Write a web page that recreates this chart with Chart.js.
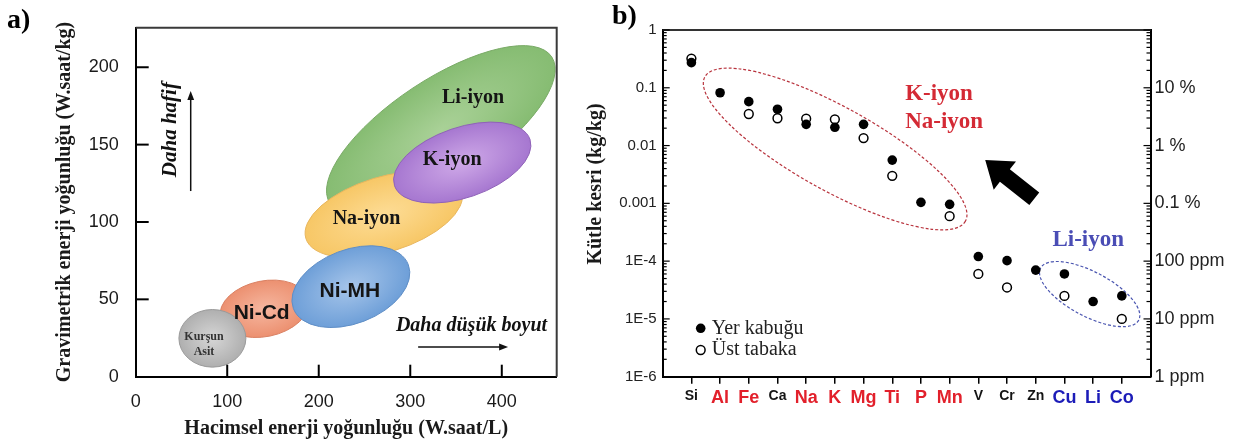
<!DOCTYPE html>
<html>
<head>
<meta charset="utf-8">
<script src="https://cdn.jsdelivr.net/npm/chart.js@4.4.0/dist/chart.umd.min.js"></script>
<style>
  html, body { margin: 0; padding: 0; background: #fff; }
  #wrap { position: relative; width: 1241px; height: 443px; background: #fff; }
  #boxA { position: absolute; left: 0; top: 0; width: 580px; height: 443px; }
  #boxB { position: absolute; left: 580px; top: 0; width: 661px; height: 443px; }
</style>
</head>
<body>
<div id="wrap">
  <div id="boxA"><canvas id="chartA"></canvas></div>
  <div id="boxB"><canvas id="chartB"></canvas></div>
</div>
<script>
// ---- panel a : battery chemistries (drawn back to front) ----
const cellNames  = ['Li-iyon', 'Na-iyon', 'K-iyon', 'Ni-Cd', 'Kurşun\nAsit', 'Ni-MH'];
const centerVol  = [333.4, 271.1, 356.8, 140.6, 83.8, 235.1];   // W.saat/L
const centerGrav = [159.4, 104.8, 138.4, 43.9, 24.8, 58.2];     // W.saat/kg
const tipVol     = [454.6, 356.3, 430.8, 188.7, 120.4, 297.9];  // end of long axis
const tipGrav    = [206.7, 120.2, 153.4, 49.7, 24.8, 72.4];
const widthRatio = [0.38, 0.46, 0.49, 0.62, 0.86, 0.6];
const labelVol   = [368.6, 252.2, 345.7, 137.6, 74.6, 234.0];
const labelGrav  = [180.5, 102.2, 140.4, 41.1, 20.7, 55.4];
const xTicksA = [0, 100, 200, 300, 400];
const yTicksA = [0, 50, 100, 150, 200];

// ---- panel b : element abundance ----
const elements = ['Si', 'Al', 'Fe', 'Ca', 'Na', 'K', 'Mg', 'Ti', 'P', 'Mn', 'V', 'Cr', 'Zn', 'Cu', 'Li', 'Co'];
const crust = [0.272, 0.082, 0.0575, 0.0425, 0.0233, 0.0207, 0.0233, 0.0056, 0.00104, 0.00096,
               1.2e-4, 1.02e-4, 7.0e-5, 6.0e-5, 2.0e-5, 2.5e-5];
const upper = [0.32, null, 0.0352, 0.0297, 0.0292, 0.0285, 0.0135, 0.0030, null, 0.0006,
               6.0e-5, 3.5e-5, null, 2.5e-5, null, 1.0e-5];
const elementGroup = ['', 'na', 'na', '', 'na', 'na', 'na', 'na', 'na', 'na', '', '', '', 'li', 'li', 'li'];
const yTicksB  = [1e-6, 1e-5, 1e-4, 1e-3, 1e-2, 1e-1, 1];
const yLabelsB = ['1E-6', '1E-5', '1E-4', '0.001', '0.01', '0.1', '1'];
const y2Labels = ['1 ppm', '10 ppm', '100 ppm', '0.1 %', '1 %', '10 %', ''];

const serif = '"Liberation Serif", "Times New Roman", serif';
const sans = '"Liberation Sans", Arial, sans-serif';

const cellLight = ['#a9d197', '#fddc95', '#cfa9e8', '#f6b7a0', '#d6d6d6', '#a6c5ea'];
const cellDark  = ['#86bc72', '#f7c766', '#a677d0', '#ec9070', '#afafaf', '#6e9fd8'];
const cellEdge  = ['#79aa66', '#e8b65e', '#8f62b8', '#d98062', '#9a9a9a', '#5f8ec6'];
const cellFont  = [serif, serif, serif, sans, serif, sans];
const cellSize  = [20, 20, 20, 21, 12, 21];

function arrowLine(ctx, x1, y1, x2, y2, head) {
  const a = Math.atan2(y2 - y1, x2 - x1);
  ctx.beginPath();
  ctx.moveTo(x1, y1);
  ctx.lineTo(x2 - Math.cos(a) * head * 0.8, y2 - Math.sin(a) * head * 0.8);
  ctx.stroke();
  ctx.beginPath();
  ctx.moveTo(x2, y2);
  ctx.lineTo(x2 - Math.cos(a) * head + Math.sin(a) * head * 0.38, y2 - Math.sin(a) * head - Math.cos(a) * head * 0.38);
  ctx.lineTo(x2 - Math.cos(a) * head - Math.sin(a) * head * 0.38, y2 - Math.sin(a) * head + Math.cos(a) * head * 0.38);
  ctx.closePath();
  ctx.fill();
}

const panelA = {
  id: 'panelA',
  beforeDatasetsDraw(chart) {
    const {ctx, scales: {x, y}} = chart;
    const pts = chart.getDatasetMeta(0).data;
    cellNames.forEach((n, i) => {
      const cx = pts[i].x, cy = pts[i].y;
      const tx = x.getPixelForValue(tipVol[i]), ty = y.getPixelForValue(tipGrav[i]);
      const rx = Math.hypot(tx - cx, ty - cy), ry = rx * widthRatio[i];
      const ang = Math.atan2(ty - cy, tx - cx);
      ctx.save();
      ctx.translate(cx, cy);
      ctx.rotate(ang);
      ctx.scale(1, ry / rx);
      const g = ctx.createRadialGradient(0, 0, 0, 0, 0, rx);
      g.addColorStop(0, cellLight[i]);
      g.addColorStop(1, cellDark[i]);
      ctx.beginPath();
      ctx.arc(0, 0, rx, 0, Math.PI * 2);
      ctx.fillStyle = g;
      ctx.fill();
      ctx.restore();
      ctx.save();
      ctx.beginPath();
      ctx.ellipse(cx, cy, rx, ry, ang, 0, Math.PI * 2);
      ctx.strokeStyle = cellEdge[i];
      ctx.lineWidth = 1;
      ctx.stroke();
      ctx.restore();
    });
  },
  afterDatasetsDraw(chart) {
    const {ctx, scales: {x, y}} = chart;
    ctx.save();
    ctx.textAlign = 'center';
    ctx.textBaseline = 'middle';
    cellNames.forEach((n, i) => {
      ctx.font = 'bold ' + cellSize[i] + 'px ' + cellFont[i];
      ctx.fillStyle = i === 4 ? '#333' : '#151515';
      const lines = n.split('\n');
      lines.forEach((t, k) => {
        ctx.fillText(t, x.getPixelForValue(labelVol[i]), y.getPixelForValue(labelGrav[i]) - (lines.length - 1 - k) * 15 + (lines.length - 1) * 7.5);
      });
    });
    ctx.restore();
  },
  afterDraw(chart) {
    const {ctx, chartArea: a, scales: {x, y}} = chart;
    ctx.save();
    // frame: top and right
    ctx.strokeStyle = '#3a3a3a';
    ctx.lineWidth = 2;
    ctx.beginPath();
    ctx.moveTo(a.left, a.top);
    ctx.lineTo(a.right, a.top);
    ctx.lineTo(a.right, a.bottom);
    ctx.stroke();
    // inward ticks
    ctx.strokeStyle = '#000';
    ctx.lineWidth = 2;
    yTicksA.slice(1).forEach(v => {
      const p = y.getPixelForValue(v);
      ctx.beginPath(); ctx.moveTo(a.left, p); ctx.lineTo(a.left + 13, p); ctx.stroke();
    });
    xTicksA.slice(1).forEach(v => {
      const p = x.getPixelForValue(v);
      ctx.beginPath(); ctx.moveTo(p, a.bottom); ctx.lineTo(p, a.bottom - 12); ctx.stroke();
    });
    // direction hints
    ctx.fillStyle = '#111';
    ctx.strokeStyle = '#111';
    ctx.lineWidth = 1.5;
    arrowLine(ctx, x.getPixelForValue(60.1), y.getPixelForValue(120), x.getPixelForValue(60.1), y.getPixelForValue(184.7), 9);
    arrowLine(ctx, x.getPixelForValue(308.6), y.getPixelForValue(19.2), x.getPixelForValue(406.9), y.getPixelForValue(19.2), 9);
    ctx.font = 'italic bold 20px ' + serif;
    ctx.textAlign = 'center';
    ctx.textBaseline = 'middle';
    ctx.fillText('Daha düşük boyut', x.getPixelForValue(366.9), y.getPixelForValue(33));
    ctx.save();
    ctx.translate(x.getPixelForValue(37.6), y.getPixelForValue(159.7));
    ctx.rotate(-Math.PI / 2);
    ctx.font = 'italic bold 21px ' + serif;
    ctx.fillText('Daha hafif', 0, 0);
    ctx.restore();
    // y title
    ctx.save();
    ctx.font = 'bold 20px ' + serif;
    ctx.fillStyle = '#1a1a1a';
    ctx.translate(65, 202);
    ctx.rotate(-Math.PI / 2);
    ctx.fillText('Gravimetrik enerji yoğunluğu (W.saat/kg)', 0, 0);
    ctx.restore();
    // panel tag
    ctx.font = 'bold 28px ' + serif;
    ctx.fillStyle = '#000';
    ctx.textAlign = 'left';
    ctx.fillText('a)', 7, 21);
    ctx.restore();
  }
};

new Chart(document.getElementById('chartA'), {
  type: 'scatter',
  data: {
    datasets: [{
      data: cellNames.map((n, i) => ({x: centerVol[i], y: centerGrav[i]})),
      pointRadius: 0
    }]
  },
  options: {
    responsive: true,
    maintainAspectRatio: false,
    animation: false,
    events: [],
    layout: {padding: {top: 7.3, right: 23.3, left: 0, bottom: 0}},
    plugins: {legend: {display: false}, tooltip: {enabled: false}},
    scales: {
      x: {
        type: 'linear', min: 0, max: 460,
        afterBuildTicks: s => { s.ticks = xTicksA.map(v => ({value: v})); },
        afterFit: s => { s.height = 66.3; },
        grid: {display: false, drawTicks: false},
        border: {display: true, color: '#000', width: 2},
        ticks: {padding: 15, color: '#1a1a1a', font: {size: 18, family: sans}},
        title: {
          display: true, text: 'Hacimsel enerji yoğunluğu (W.saat/L)',
          color: '#1a1a1a', font: {size: 20, weight: 'bold', family: serif},
          padding: {top: 0, bottom: 2}
        }
      },
      y: {
        type: 'linear', min: 0, max: 225.5,
        afterBuildTicks: s => { s.ticks = yTicksA.map(v => ({value: v})); },
        afterFit: s => { s.width = 135.7; },
        grid: {display: false, drawTicks: false},
        border: {display: true, color: '#000', width: 2},
        ticks: {padding: 17, color: '#1a1a1a', font: {size: 18, family: sans}}
      }
    }
  },
  plugins: [panelA]
});

// ---- panel b ----
const groupColor = {'': '#141414', na: '#e2202b', li: '#1c1cb8'};
const naGroup = {cx: 6.01, cy: 0.00873, tx: 10.55, ty: 4.92e-4, ratio: 0.28, color: '#b8333d'};
const liGroup = {cx: 14.88, cy: 2.69e-5, tx: 16.59, ty: 9.53e-6, ratio: 0.40, color: '#4a55b0'};

const panelB = {
  id: 'panelB',
  beforeDatasetsDraw(chart) {
    const {ctx, scales: {x, y}} = chart;
    [naGroup, liGroup].forEach(e => {
      const cx = x.getPixelForValue(e.cx), cy = y.getPixelForValue(e.cy);
      const tx = x.getPixelForValue(e.tx), ty = y.getPixelForValue(e.ty);
      const rx = Math.hypot(tx - cx, ty - cy);
      ctx.save();
      ctx.beginPath();
      ctx.ellipse(cx, cy, rx, rx * e.ratio, Math.atan2(ty - cy, tx - cx), 0, Math.PI * 2);
      ctx.setLineDash([3, 2]);
      ctx.strokeStyle = e.color;
      ctx.lineWidth = 1.2;
      ctx.stroke();
      ctx.restore();
    });
  },
  afterDraw(chart) {
    const {ctx, chartArea: a, scales: {x, y}} = chart;
    ctx.save();
    // top frame line
    ctx.strokeStyle = '#333';
    ctx.lineWidth = 2;
    ctx.beginPath(); ctx.moveTo(a.left, a.top); ctx.lineTo(a.right, a.top); ctx.stroke();
    // inward log ticks on both sides
    ctx.strokeStyle = '#000';
    ctx.lineWidth = 1.2;
    for (let d = 0; d < yTicksB.length; d++) {
      for (let m = 1; m <= 9; m++) {
        const v = yTicksB[d] * m;
        if (v > 1.0000001) break;
        const p = y.getPixelForValue(v);
        const len = m === 1 ? 7 : 4;
        ctx.beginPath(); ctx.moveTo(a.left, p); ctx.lineTo(a.left + len, p); ctx.stroke();
        ctx.beginPath(); ctx.moveTo(a.right, p); ctx.lineTo(a.right - len, p); ctx.stroke();
      }
    }
    // legend
    const meta0 = chart.data.datasets[0], meta1 = chart.data.datasets[1];
    ctx.lineWidth = 1.5;
    ctx.beginPath(); ctx.arc(a.left + 38, a.bottom - 48.4, 4.8, 0, Math.PI * 2);
    ctx.fillStyle = meta0.backgroundColor; ctx.fill();
    ctx.beginPath(); ctx.arc(a.left + 38, a.bottom - 26.7, 4.4, 0, Math.PI * 2);
    ctx.fillStyle = meta1.backgroundColor; ctx.fill();
    ctx.strokeStyle = meta1.borderColor; ctx.stroke();
    ctx.font = '20px ' + serif;
    ctx.fillStyle = '#222';
    ctx.textAlign = 'left';
    ctx.textBaseline = 'middle';
    ctx.fillText(meta0.label, a.left + 49, a.bottom - 48.4);
    ctx.fillText(meta1.label, a.left + 49, a.bottom - 26.7);
    // group labels
    ctx.font = 'bold 23px ' + serif;
    ctx.fillStyle = '#d42a35';
    ctx.fillText('K-iyon', x.getPixelForValue(8.45), y.getPixelForValue(0.0772));
    ctx.fillText('Na-iyon', x.getPixelForValue(8.45), y.getPixelForValue(0.0259));
    ctx.fillStyle = '#4a4db5';
    ctx.textAlign = 'center';
    ctx.fillText('Li-iyon', x.getPixelForValue(14.83), y.getPixelForValue(2.33e-4));
    // big arrow (tail -> tip)
    const t0x = x.getPixelForValue(12.95), t0y = y.getPixelForValue(1.2e-3);
    const t1x = x.getPixelForValue(11.24), t1y = y.getPixelForValue(5.6e-3);
    const ang = Math.atan2(t1y - t0y, t1x - t0x);
    const L = Math.hypot(t1x - t0x, t1y - t0y);
    ctx.save();
    ctx.translate(t0x, t0y);
    ctx.rotate(ang);
    ctx.beginPath();
    ctx.moveTo(0, -8); ctx.lineTo(L - 25, -8); ctx.lineTo(L - 25, -18);
    ctx.lineTo(L, 0);
    ctx.lineTo(L - 25, 18); ctx.lineTo(L - 25, 8); ctx.lineTo(0, 8);
    ctx.closePath();
    ctx.fillStyle = '#000';
    ctx.fill();
    ctx.restore();
    // y title
    ctx.save();
    ctx.font = 'bold 20px ' + serif;
    ctx.fillStyle = '#1a1a1a';
    ctx.textAlign = 'center';
    ctx.translate(16, 184);
    ctx.rotate(-Math.PI / 2);
    ctx.fillText('Kütle kesri (kg/kg)', 0, 0);
    ctx.restore();
    // panel tag
    ctx.font = 'bold 28px ' + serif;
    ctx.fillStyle = '#000';
    ctx.textAlign = 'left';
    ctx.fillText('b)', 32, 17);
    ctx.restore();
  }
};

new Chart(document.getElementById('chartB'), {
  type: 'scatter',
  data: {
    datasets: [{
      label: 'Yer kabuğu',
      data: elements.map((e, i) => ({x: i + 1, y: crust[i]})),
      pointRadius: 4.8, backgroundColor: '#000', borderWidth: 0
    }, {
      label: 'Üst tabaka',
      data: elements.map((e, i) => ({x: i + 1, y: upper[i]})),
      pointRadius: 4.4, backgroundColor: '#fff', borderColor: '#000', borderWidth: 1.5
    }]
  },
  options: {
    responsive: true,
    maintainAspectRatio: false,
    animation: false,
    events: [],
    layout: {padding: {top: 30, right: 0, left: 0, bottom: 0}},
    plugins: {legend: {display: false}, tooltip: {enabled: false}},
    scales: {
      x: {
        type: 'linear', min: 0, max: 17,
        afterBuildTicks: s => { s.ticks = elements.map((e, i) => ({value: i + 1})); },
        afterFit: s => { s.height = 66.3; },
        grid: {display: true, drawOnChartArea: false, drawTicks: true, tickLength: 7, color: '#000', lineWidth: 1.5},
        border: {display: true, color: '#000', width: 2},
        ticks: {
          autoSkip: false, maxRotation: 0, padding: 4,
          callback: v => elements[v - 1],
          color: c => groupColor[elementGroup[c.index]],
          font: c => ({size: elementGroup[c.index] ? 18 : 14, weight: 'bold', family: sans})
        }
      },
      y: {
        type: 'logarithmic', position: 'left', min: 1e-6, max: 1,
        afterBuildTicks: s => { s.ticks = yTicksB.map(v => ({value: v})); },
        afterFit: s => { s.width = 82.7; },
        grid: {display: false, drawTicks: false},
        border: {display: true, color: '#000', width: 2},
        ticks: {padding: 6, color: '#222', font: {size: 15, family: sans}, callback: (v, i) => yLabelsB[i]}
      },
      y2: {
        type: 'logarithmic', position: 'right', min: 1e-6, max: 1,
        afterBuildTicks: s => { s.ticks = yTicksB.map(v => ({value: v})); },
        afterFit: s => { s.width = 90.5; },
        grid: {display: false, drawTicks: false},
        border: {display: true, color: '#000', width: 2},
        ticks: {padding: 4, color: '#222', font: {size: 18, family: sans}, callback: (v, i) => y2Labels[i]}
      }
    }
  },
  plugins: [panelB]
});
</script>
</body>
</html>
